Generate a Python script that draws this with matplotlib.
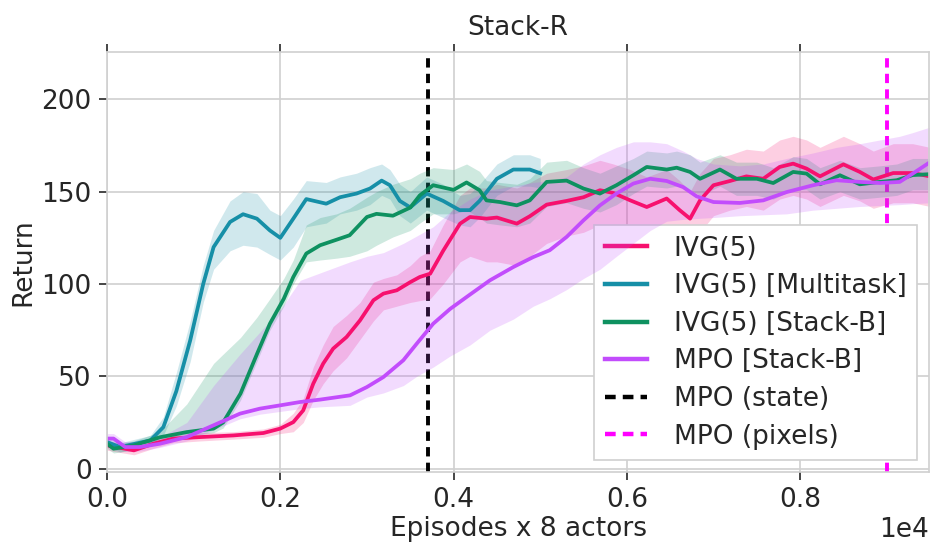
import numpy as np
import matplotlib
matplotlib.use('Agg')
import matplotlib.pyplot as plt

# кривые обучения, Stack-R (эпизоды, возврат)
ivg_x = [0, 310, 535, 765, 1075, 1460, 1805, 2000, 2150, 2265, 2380, 2495, 2610, 2765, 2920,
         3075, 3190, 3345, 3500, 3610, 3730, 3880, 4075, 4190, 4380, 4500, 4730, 4880, 5075, 5305,
         5500, 5690, 5845, 6040, 6230, 6460, 6610, 6730, 6845, 7000, 7190, 7380, 7575, 7765, 7920,
         8075, 8230, 8500, 8690, 8845, 9075, 9300, 9500]
ivg_y = [12.6, 9.9, 13.5, 16.3, 17.1, 18, 19.3, 21.7, 25.2, 31.6, 46, 56.9, 65, 71.3, 80.3,
         91.2, 94.8, 96.6, 101, 103.8, 105.6, 118, 132.7, 136.3, 135.4, 136, 132.7, 136.7, 143, 145,
         147, 150.8, 149.3, 145.3, 141.7, 146.3, 140, 135.4, 145.3, 153.5, 155.8, 158.3, 157, 163.4, 165.2,
         162.5, 158.3, 164.8, 160.7, 156.6, 160.1, 160.1, 158.3]
ivg_lo = [10, 7.5, 11, 14, 15, 16, 17, 19, 20, 25, 37, 46, 53, 60, 70,
          80, 86, 88, 90, 91, 92, 100, 112, 115, 112, 112, 110, 115, 122, 126,
          128, 132, 131, 127, 124, 129, 124, 122, 128, 137, 140, 142, 140, 146, 148,
          146, 142, 148, 145, 141, 144, 144, 142]
ivg_hi = [15, 12.5, 16, 18.5, 19.5, 20, 21.5, 24, 30, 38, 55, 67, 77, 83, 90,
          101, 103, 105, 110, 115, 118, 132, 148, 152, 152, 154, 152, 155, 160, 162,
          164, 167, 165, 162, 158, 162, 156, 150, 160, 168, 170, 173, 172, 178, 180,
          178, 174, 180, 176, 172, 176, 176, 174]

multi_x = [0, 150, 500, 650, 800, 960, 1110, 1230, 1420, 1570, 1730, 1880, 2000, 2150, 2300, 2530,
           2690, 2880, 3035, 3170, 3265, 3380, 3500, 3690, 3880, 4070, 4190, 4300, 4500, 4690, 4880, 5000]
multi_y = [14.4, 11.7, 15.3, 22.5, 42, 69.5, 100, 120, 133.6, 137.8, 135.4, 129, 125, 135.4, 146, 143.5,
           147, 149, 151.7, 156, 153.5, 145, 141.5, 149, 145, 140, 140, 145, 157, 162, 162, 160]
multi_lo = [12, 9, 13, 18, 34, 58, 90, 108, 118, 121, 120, 116, 113, 120, 131, 133,
            138, 140, 143, 148, 146, 137, 133, 140, 136, 132, 131, 136, 148, 153, 153, 152]
multi_hi = [17, 14, 18, 28, 52, 80, 110, 129, 145, 150, 149, 140, 137, 146, 156, 155,
            158, 160, 163, 165, 162, 154, 150, 158, 154, 148, 149, 154, 165, 170, 170, 168]

stackb_x = [0, 75, 310, 610, 920, 1230, 1340, 1540, 1730, 1880, 2040, 2150, 2300, 2460, 2650,
            2800, 3000, 3110, 3300, 3500, 3610, 3765, 4000, 4150, 4300, 4380, 4535, 4730, 4880, 5075,
            5305, 5500, 5690, 5880, 6075, 6230, 6460, 6575, 6730, 6845, 7075, 7265, 7500, 7690, 7920,
            8075, 8230, 8460, 8690, 8920, 9115, 9300, 9500]
stackb_y = [13.5, 10.8, 12.6, 17, 19.8, 21.7, 25, 40.6, 62, 78.5, 92, 103.8, 116.5, 121, 124,
            126.4, 136.3, 138, 137, 141.4, 148, 153.5, 151, 155, 150.8, 145.3, 144.4, 142.6, 145.3, 155.3,
            156, 151.7, 149, 153.5, 158.9, 163.4, 162, 163, 160.7, 157, 162, 157, 157, 154.7, 160.7,
            159.8, 154, 158.9, 154, 155.3, 156.2, 159, 159.5]
stackb_lo = [11, 8.5, 10, 14.5, 17.5, 19.5, 22, 37, 58, 75, 88, 100, 112, 113, 114,
             115, 118, 121, 125.5, 129, 133, 138, 138, 140, 136, 133, 132, 131, 133, 142,
             144, 141, 139, 143, 149, 153, 152, 153, 151, 148, 153, 148, 148, 146, 151,
             151, 146, 150, 146, 147, 148, 151, 151]
stackb_hi = [16, 13.5, 15, 20, 35, 57, 62, 71, 82, 92, 103, 113, 132, 136, 138,
             141, 147, 150, 154, 157, 160, 163, 162, 165, 161, 156, 155, 154, 157, 166,
             167, 163, 160, 164, 168, 172, 171, 172, 170, 166, 170, 166, 166, 163, 169,
             168, 163, 167, 163, 164, 165, 168, 168]

mpo_x = [0, 75, 210, 380, 610, 920, 1230, 1535, 1765, 2000, 2230, 2460, 2805, 3000, 3190,
         3420, 3575, 3765, 3960, 4190, 4420, 4690, 4920, 5110, 5305, 5500, 5690, 5880, 6075, 6270,
         6460, 6650, 6805, 7000, 7305, 7575, 7845, 8150, 8420, 8690, 8920, 9150, 9300, 9500]
mpo_y = [16.3, 16.3, 11.7, 11.7, 13.5, 17.1, 23.5, 29.8, 32.5, 34.3, 36.1, 37.4, 39.7, 44.2, 49.6,
         58.7, 67.7, 78.5, 86.5, 94.3, 102, 109.2, 114.6, 118.3, 125.5, 134.5, 142.6, 149, 154.4, 157,
         155.8, 152.5, 147.5, 144.4, 143.9, 145.3, 149.8, 153.5, 156.2, 155.3, 154.7, 155.3, 159.8, 166]
mpo_lo = [14, 14, 9.5, 9.5, 11.5, 15, 21, 27, 29.5, 31, 32.5, 33.5, 34.3, 38.8, 41,
          45, 50, 55, 61, 67, 75, 81, 88, 92, 97, 103, 108, 115, 122, 129,
          134, 135, 135.5, 136, 137, 137.5, 138, 140, 141, 142, 142.5, 143, 143.5, 144]
mpo_hi = [19, 19, 14.5, 14.5, 17, 25, 45, 62, 74, 86, 102, 106, 112, 115, 117,
          122, 126, 131, 139, 146, 151, 153, 155, 156, 158, 165, 170, 174, 177, 177,
          176, 172, 168, 165, 164, 165, 168, 171, 174, 176, 178, 180, 182, 185]

mpo_state = 3705   # вертикальные базовые линии
mpo_pixels = 9000

# (подпись, x, среднее, низ, верх, цвет, zorder полосы)
series = [
    ('IVG(5)', ivg_x, ivg_y, ivg_lo, ivg_hi, '#f7106e', 1),
    ('IVG(5) [Multitask]', multi_x, multi_y, multi_lo, multi_hi, '#168fa7', 1),
    ('IVG(5) [Stack-B]', stackb_x, stackb_y, stackb_lo, stackb_hi, '#0e9160', 1),
    ('MPO [Stack-B]', mpo_x, mpo_y, mpo_lo, mpo_hi, '#c24cfc', 1.8),
]

txt = '#262626'
fs = 19
plt.rcParams['font.family'] = 'DejaVu Sans'
plt.rcParams['font.size'] = fs
plt.rcParams['text.color'] = txt
plt.rcParams['axes.labelcolor'] = txt
plt.rcParams['xtick.color'] = txt
plt.rcParams['ytick.color'] = txt

fig = plt.figure(figsize=(9.3, 5.42), dpi=100)
ax = fig.add_axes([0.1151, 0.1292, 0.884, 0.775])

for name, x, y, lo, hi, c, z in series:
    ax.fill_between(x, lo, hi, color=c, alpha=0.2, linewidth=0, zorder=z)
for name, x, y, lo, hi, c, z in series:
    ax.plot(x, y, color=c, lw=2.7, label=name, solid_joinstyle='round', zorder=2)

ax.axvline(mpo_state, color='black', lw=2.8, ls=(0, (2.4, 1.6)), label='MPO (state)', zorder=0.8)
ax.axvline(mpo_pixels, color='#ff00ff', lw=2.8, ls=(0, (2.4, 1.6)), label='MPO (pixels)', zorder=0.8)

ax.set_xlim(0, 9490)
ax.set_ylim(-1.8, 225.7)
ax.set_xticks([0, 2000, 4000, 6000, 8000])
ax.set_yticks([0, 50, 100, 150, 200])
ax.ticklabel_format(axis='x', style='sci', scilimits=(4, 4))
ax.xaxis.get_offset_text().set_fontsize(fs)

ax.grid(True, color='#d0d0d0', lw=1.2)
ax.set_axisbelow(True)
for s in ax.spines.values():
    s.set_color('#d0d0d0')
    s.set_linewidth(1.2)
ax.tick_params(direction='out', length=6, width=1.2, top=True, labeltop=False,
               right=False, labelsize=fs, pad=5)

ax.set_title('Stack-R', fontsize=fs, pad=12)
ax.set_xlabel('Episodes x 8 actors', fontsize=fs, labelpad=2)
ax.set_ylabel('Return', fontsize=fs)

leg = ax.legend(loc='lower right', bbox_to_anchor=(0.985, 0.028), borderaxespad=0,
                fontsize=fs, handlelength=1.6, handletextpad=1.0, labelspacing=0.44,
                fancybox=False, framealpha=1.0, edgecolor='#d0d0d0', borderpad=0.4)
leg.get_frame().set_linewidth(1.2)
leg.set_zorder(1.5)
for h in leg.get_lines():
    h.set_linewidth(3.2)

fig.savefig('out.png', dpi=100)
